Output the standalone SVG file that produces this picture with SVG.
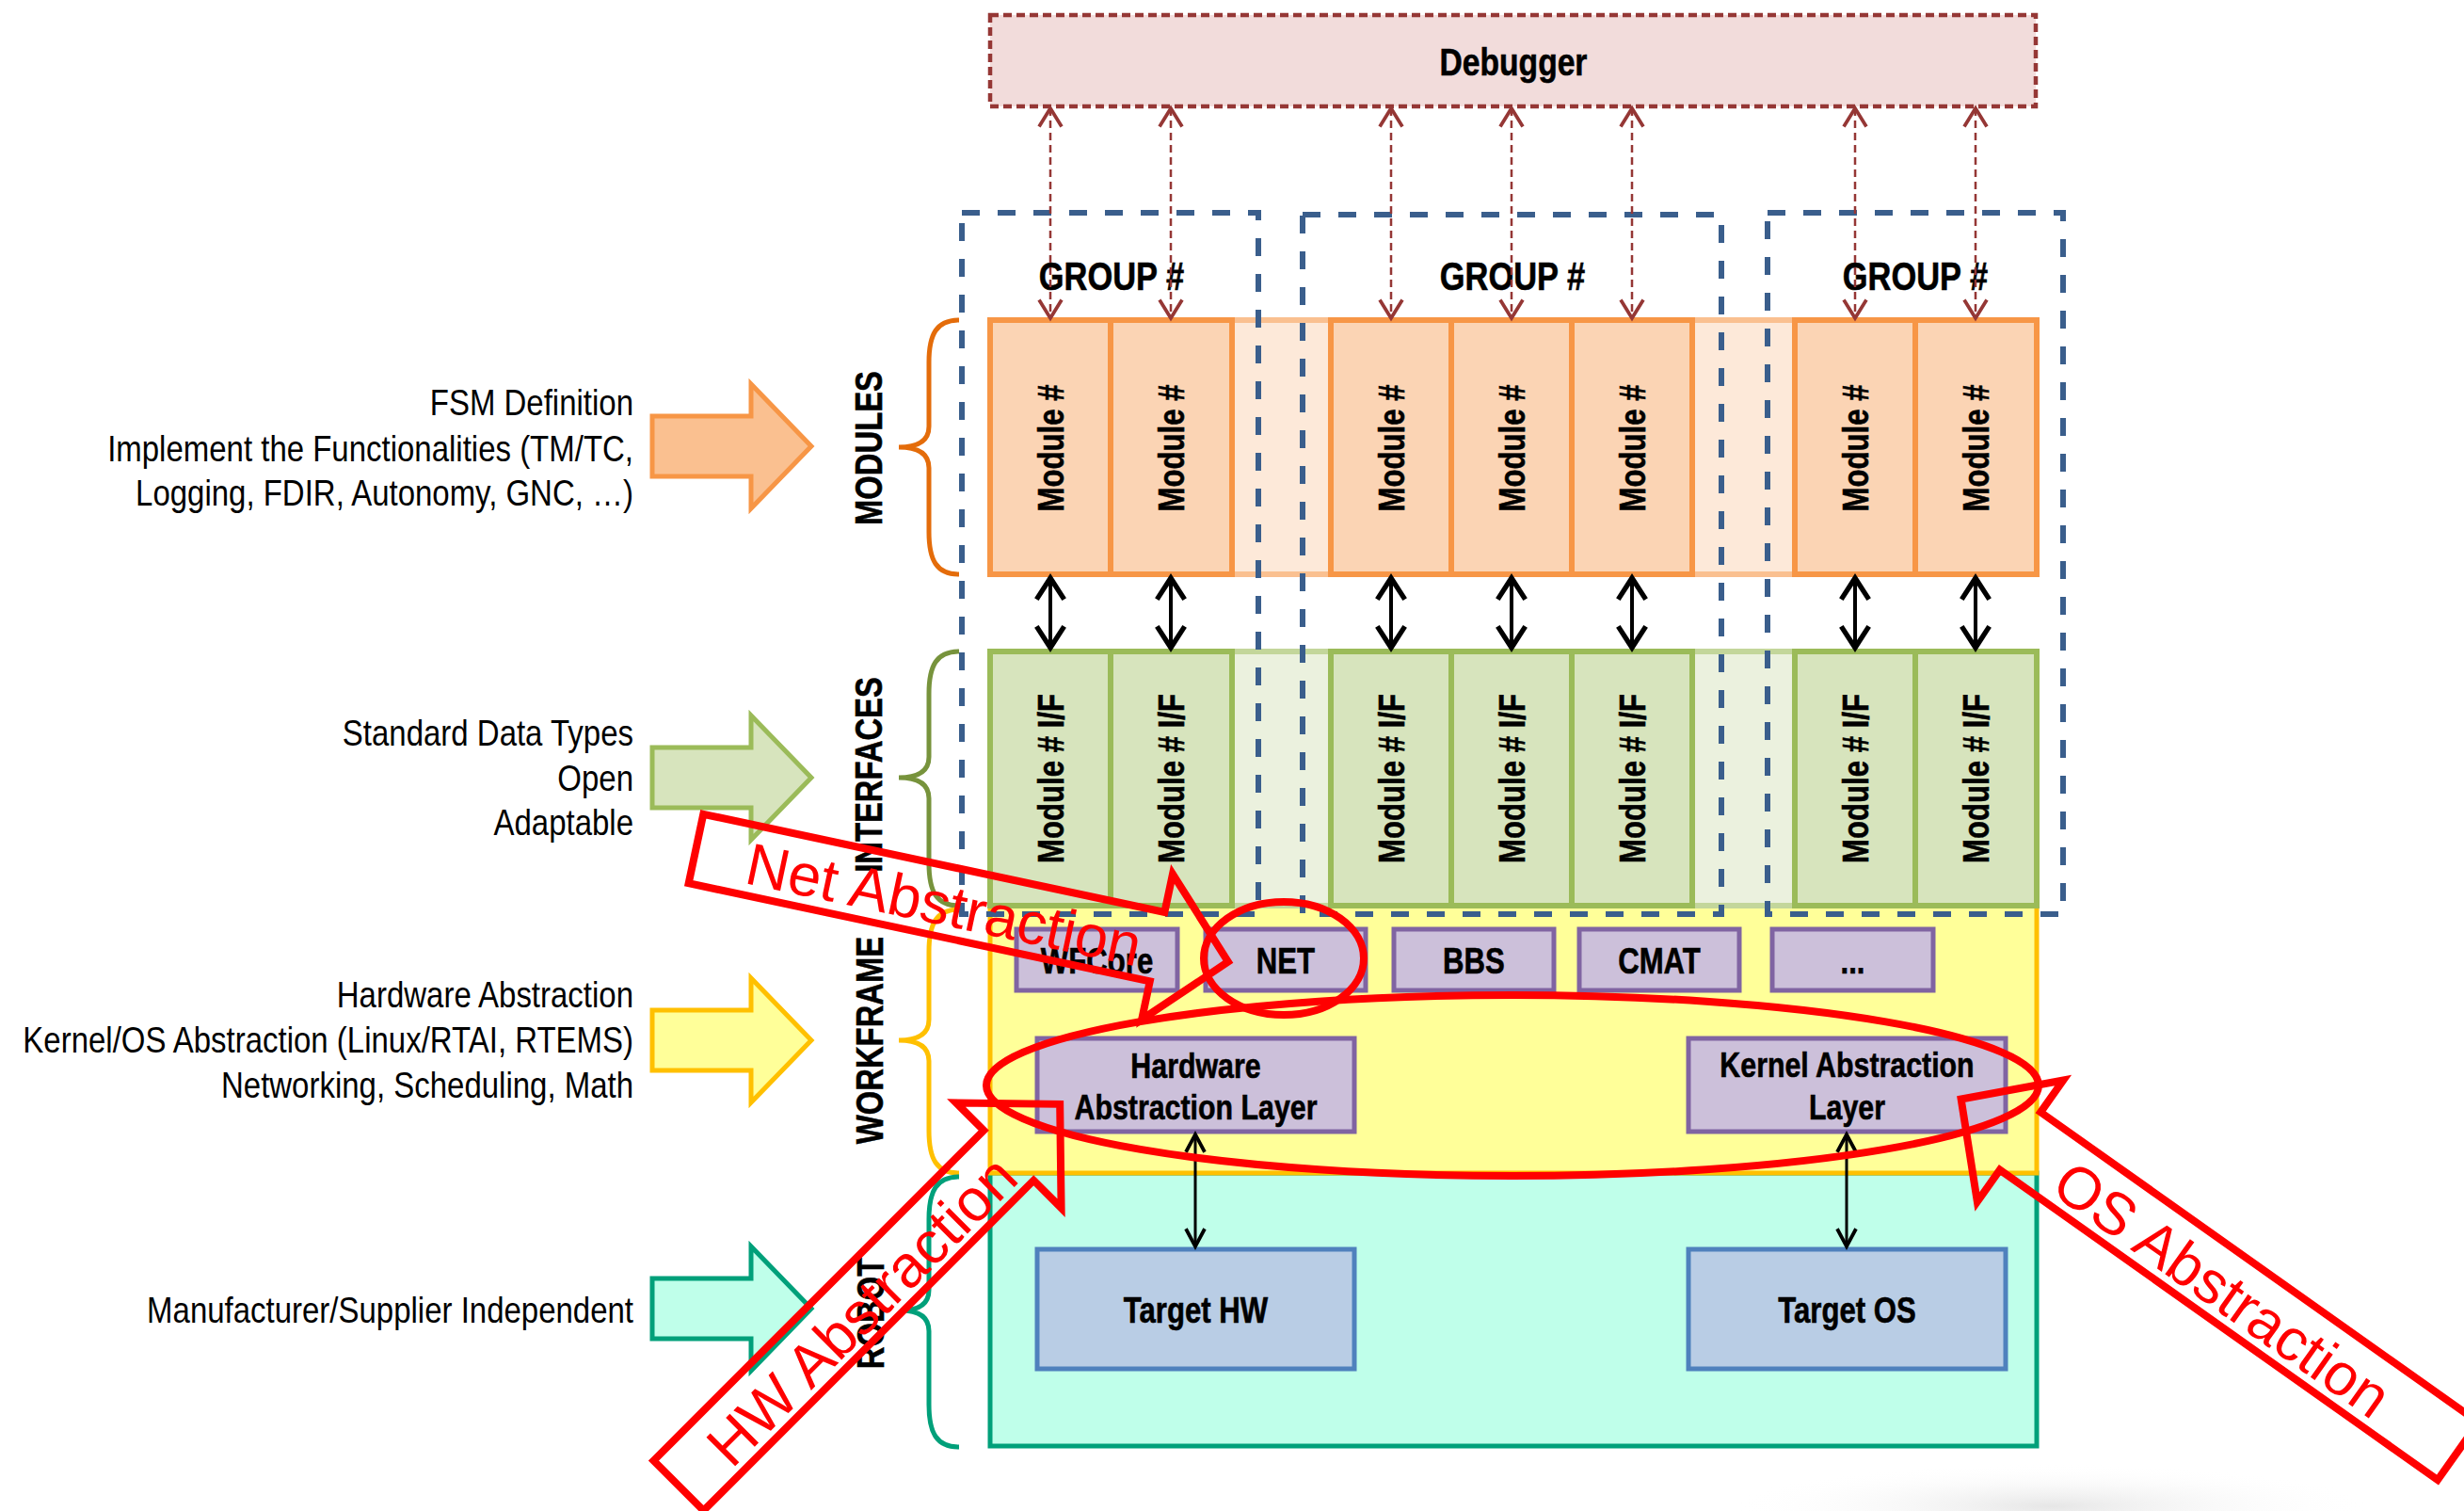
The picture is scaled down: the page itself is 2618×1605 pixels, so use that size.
<svg xmlns="http://www.w3.org/2000/svg" width="2618" height="1605" viewBox="0 0 2618 1605">
<style>
.nb{font-family:"Liberation Sans",Arial,sans-serif;font-weight:bold;fill:#000;stroke:#000;stroke-width:0.6;text-anchor:middle}
.nr{font-family:"Liberation Sans",Arial,sans-serif;font-size:39.5px;fill:#000;text-anchor:end}
.rt{font-family:"Liberation Sans",Arial,sans-serif;font-size:63px;fill:#FF0000;text-anchor:middle}
.mod{fill:#FBD4B4;stroke:#F79646;stroke-width:6}
.itf{fill:#D7E4BD;stroke:#9BBB59;stroke-width:6}
.wf{fill:#CCC0DA;stroke:#8064A2;stroke-width:5}
.tg{fill:#B9CDE5;stroke:#4F81BD;stroke-width:5}
.grp{fill:none;stroke:#3A5E8C;stroke-width:6;stroke-dasharray:19 19}
.brace{fill:none;stroke-width:5}
.dbg{stroke:#953735;stroke-width:2.5;stroke-dasharray:8 5;fill:none}
.blk{stroke:#000;stroke-width:4;fill:none}
.blk2{stroke:#000;stroke-width:3;fill:none}
.red{fill:none;stroke:#FF0000;stroke-width:8;stroke-linejoin:miter}
</style>
<defs>
<marker id="mdbg" markerUnits="userSpaceOnUse" markerWidth="30" markerHeight="30" viewBox="-16 -10 20 20" refX="0" refY="0" orient="auto-start-reverse">
<path d="M-13,-8 L0,0 L-13,8" fill="none" stroke="#953735" stroke-width="2.5"/>
</marker>
<marker id="mblk" markerUnits="userSpaceOnUse" markerWidth="40" markerHeight="40" viewBox="-20 -15 26 30" refX="0" refY="0" orient="auto-start-reverse">
<path d="M-17,-11 L0,0 L-17,11" fill="none" stroke="#000" stroke-width="4"/>
</marker>
<marker id="mblk2" markerUnits="userSpaceOnUse" markerWidth="30" markerHeight="30" viewBox="-18 -12 22 24" refX="0" refY="0" orient="auto-start-reverse">
<path d="M-15,-8 L0,0 L-15,8" fill="none" stroke="#000" stroke-width="3"/>
</marker>
<radialGradient id="blob" cx="0.5" cy="0.5" r="0.5">
<stop offset="0" stop-color="#E6E6E6"/>
<stop offset="1" stop-color="#FFFFFF" stop-opacity="0"/>
</radialGradient>
</defs>
<rect width="2618" height="1605" fill="#FFFFFF"/>
<ellipse cx="2180" cy="1600" rx="340" ry="45" fill="url(#blob)"/>

<!-- left descriptions and arrows -->
<g id="desc-modules">
<path d="M693,442 L798,442 L798,408 L862,474 L798,540 L798,506 L693,506 Z" fill="#FAC090" stroke="#F79646" stroke-width="5"/>
<text class="nr" transform="translate(673,441) scale(0.835,1)">FSM Definition</text>
<text class="nr" transform="translate(673,490) scale(0.835,1)">Implement the Functionalities (TM/TC,</text>
<text class="nr" transform="translate(673,537) scale(0.835,1)">Logging, FDIR, Autonomy, GNC, …)</text>
</g>
<g id="desc-interfaces">
<path d="M693,794 L798,794 L798,760 L862,826 L798,892 L798,858 L693,858 Z" fill="#D7E4BD" stroke="#9BBB59" stroke-width="5"/>
<text class="nr" transform="translate(673,792) scale(0.835,1)">Standard Data Types</text>
<text class="nr" transform="translate(673,840) scale(0.835,1)">Open</text>
<text class="nr" transform="translate(673,887) scale(0.835,1)">Adaptable</text>
</g>
<g id="desc-workframe">
<path d="M693,1073 L798,1073 L798,1039 L862,1105 L798,1171 L798,1137 L693,1137 Z" fill="#FFFF99" stroke="#FFC000" stroke-width="5"/>
<text class="nr" transform="translate(673,1070) scale(0.835,1)">Hardware Abstraction</text>
<text class="nr" transform="translate(673,1118) scale(0.835,1)">Kernel/OS Abstraction (Linux/RTAI, RTEMS)</text>
<text class="nr" transform="translate(673,1166) scale(0.835,1)">Networking, Scheduling, Math</text>
</g>
<g id="desc-robot">
<path d="M693,1358 L798,1358 L798,1324 L862,1390 L798,1456 L798,1422 L693,1422 Z" fill="#BFFFEA" stroke="#00A07A" stroke-width="5"/>
<text class="nr" transform="translate(673,1405) scale(0.835,1)">Manufacturer/Supplier Independent</text>
</g>

<!-- layer labels and braces -->
<g id="label-modules">
<path class="brace" stroke="#E46C0A" d="M1019,340 C995,340 987,355 987,385 L987,453 C987,469 975,475 955,475 C975,475 987,481 987,497 L987,565 C987,595 995,610 1019,610"/>
<text class="nb" font-size="40" transform="translate(937,476) rotate(-90) scale(0.82,1)">MODULES</text>
</g>
<g id="label-interfaces">
<path class="brace" stroke="#77933C" d="M1019,692 C995,692 987,707 987,737 L987,804 C987,820 975,826 955,826 C975,826 987,832 987,848 L987,917 C987,947 995,962 1019,962"/>
<text class="nb" font-size="40" transform="translate(937,823) rotate(-90) scale(0.82,1)">INTERFACES</text>
</g>
<g id="label-workframe">
<path class="brace" stroke="#FFC000" d="M1019,966 C995,966 987,981 987,1011 L987,1083 C987,1099 975,1105 955,1105 C975,1105 987,1111 987,1127 L987,1201 C987,1231 995,1246 1019,1246"/>
<text class="nb" font-size="40" transform="translate(938,1105) rotate(-90) scale(0.82,1)">WORKFRAME</text>
</g>
<g id="label-robot">
<path class="brace" stroke="#00A07A" d="M1019,1250 C995,1250 987,1265 987,1295 L987,1370 C987,1386 975,1392 957,1392 C975,1392 987,1398 987,1414 L987,1492 C987,1522 995,1537 1019,1537"/>
<text class="nb" font-size="40" transform="translate(939,1395) rotate(-90) scale(0.82,1)">ROBOT</text>
</g>

<!-- workframe and robot layers -->
<g id="robot">
<rect x="1052" y="1246" width="1112" height="290" fill="#BFFFEA" stroke="#00A07A" stroke-width="5"/>
</g>
<g id="workframe">
<rect x="1052" y="960" width="1112" height="286" fill="#FFFF99" stroke="#FFC000" stroke-width="5"/>
</g>
<g id="wfcore"><rect class="wf" x="1080" y="987" width="171" height="65"/><text class="nb" font-size="38" transform="translate(1165.5,1034) scale(0.82,1)">WFCore</text></g>
<g id="net"><rect class="wf" x="1281" y="987" width="170" height="65"/><text class="nb" font-size="38" transform="translate(1366,1034) scale(0.82,1)">NET</text></g>
<g id="bbs"><rect class="wf" x="1481" y="987" width="170" height="65"/><text class="nb" font-size="38" transform="translate(1566,1034) scale(0.82,1)">BBS</text></g>
<g id="cmat"><rect class="wf" x="1678" y="987" width="170" height="65"/><text class="nb" font-size="38" transform="translate(1763,1034) scale(0.82,1)">CMAT</text></g>
<g id="more"><rect class="wf" x="1883" y="987" width="171" height="65"/><text class="nb" font-size="38" transform="translate(1968.5,1034) scale(0.82,1)">...</text></g>
<g id="hal"><rect class="wf" x="1102" y="1103" width="337" height="99"/>
<text class="nb" font-size="37" transform="translate(1270.5,1145) scale(0.82,1)">Hardware</text>
<text class="nb" font-size="37" transform="translate(1270.5,1189) scale(0.82,1)">Abstraction Layer</text></g>
<g id="kal"><rect class="wf" x="1794" y="1103" width="337" height="99"/>
<text class="nb" font-size="37" transform="translate(1962.5,1144) scale(0.82,1)">Kernel Abstraction</text>
<text class="nb" font-size="37" transform="translate(1962.5,1189) scale(0.82,1)">Layer</text></g>
<g id="target-hw"><rect class="tg" x="1102" y="1327" width="337" height="127"/><text class="nb" font-size="38" transform="translate(1270.5,1405) scale(0.82,1)">Target HW</text></g>
<g id="target-os"><rect class="tg" x="1794" y="1327" width="337" height="127"/><text class="nb" font-size="38" transform="translate(1962.5,1405) scale(0.82,1)">Target OS</text></g>

<!-- modules row -->
<g id="modules-bg"><rect x="1052" y="340" width="1112" height="270" fill="#FDE9D9" stroke="#FAC090" stroke-width="6"/></g>
<g id="interfaces-bg"><rect x="1052" y="692" width="1112" height="270" fill="#EBF1DE" stroke="#C3D69B" stroke-width="6"/></g>
<g id="m1"><rect class="mod" x="1052" y="340" width="128" height="270"/><text class="nb" font-size="38" transform="translate(1130,476) rotate(-90) scale(0.82,1)">Module #</text></g>
<g id="m2"><rect class="mod" x="1180" y="340" width="129" height="270"/><text class="nb" font-size="38" transform="translate(1258,476) rotate(-90) scale(0.82,1)">Module #</text></g>
<g id="m3"><rect class="mod" x="1414" y="340" width="128" height="270"/><text class="nb" font-size="38" transform="translate(1492,476) rotate(-90) scale(0.82,1)">Module #</text></g>
<g id="m4"><rect class="mod" x="1542" y="340" width="128" height="270"/><text class="nb" font-size="38" transform="translate(1620,476) rotate(-90) scale(0.82,1)">Module #</text></g>
<g id="m5"><rect class="mod" x="1670" y="340" width="128" height="270"/><text class="nb" font-size="38" transform="translate(1748,476) rotate(-90) scale(0.82,1)">Module #</text></g>
<g id="m6"><rect class="mod" x="1907" y="340" width="128" height="270"/><text class="nb" font-size="38" transform="translate(1985,476) rotate(-90) scale(0.82,1)">Module #</text></g>
<g id="m7"><rect class="mod" x="2035" y="340" width="129" height="270"/><text class="nb" font-size="38" transform="translate(2113,476) rotate(-90) scale(0.82,1)">Module #</text></g>
<g id="i1"><rect class="itf" x="1052" y="692" width="128" height="270"/><text class="nb" font-size="38" transform="translate(1130,827) rotate(-90) scale(0.82,1)">Module # I/F</text></g>
<g id="i2"><rect class="itf" x="1180" y="692" width="129" height="270"/><text class="nb" font-size="38" transform="translate(1258,827) rotate(-90) scale(0.82,1)">Module # I/F</text></g>
<g id="i3"><rect class="itf" x="1414" y="692" width="128" height="270"/><text class="nb" font-size="38" transform="translate(1492,827) rotate(-90) scale(0.82,1)">Module # I/F</text></g>
<g id="i4"><rect class="itf" x="1542" y="692" width="128" height="270"/><text class="nb" font-size="38" transform="translate(1620,827) rotate(-90) scale(0.82,1)">Module # I/F</text></g>
<g id="i5"><rect class="itf" x="1670" y="692" width="128" height="270"/><text class="nb" font-size="38" transform="translate(1748,827) rotate(-90) scale(0.82,1)">Module # I/F</text></g>
<g id="i6"><rect class="itf" x="1907" y="692" width="128" height="270"/><text class="nb" font-size="38" transform="translate(1985,827) rotate(-90) scale(0.82,1)">Module # I/F</text></g>
<g id="i7"><rect class="itf" x="2035" y="692" width="129" height="270"/><text class="nb" font-size="38" transform="translate(2113,827) rotate(-90) scale(0.82,1)">Module # I/F</text></g>

<!-- groups -->
<g id="group1"><rect class="grp" x="1022" y="226" width="315" height="745"/><text class="nb" font-size="42" transform="translate(1181,308) scale(0.82,1)">GROUP #</text></g>
<g id="group2"><rect class="grp" x="1384" y="228" width="445" height="743"/><text class="nb" font-size="42" transform="translate(1607,308) scale(0.82,1)">GROUP #</text></g>
<g id="group3"><rect class="grp" x="1878" y="226" width="314" height="745"/><text class="nb" font-size="42" transform="translate(2035,308) scale(0.82,1)">GROUP #</text></g>

<!-- debugger -->
<g id="debugger"><rect x="1052" y="16" width="1111" height="97" fill="#F2DCDB" stroke="#953735" stroke-width="4.5" stroke-dasharray="9 5"/><text class="nb" font-size="41" transform="translate(1608,80) scale(0.82,1)">Debugger</text></g>

<!-- connectors -->
<g id="connectors">
<line class="dbg" x1="1116" y1="115" x2="1116" y2="338" marker-start="url(#mdbg)" marker-end="url(#mdbg)"/>
<line class="dbg" x1="1244" y1="115" x2="1244" y2="338" marker-start="url(#mdbg)" marker-end="url(#mdbg)"/>
<line class="dbg" x1="1478" y1="115" x2="1478" y2="338" marker-start="url(#mdbg)" marker-end="url(#mdbg)"/>
<line class="dbg" x1="1606" y1="115" x2="1606" y2="338" marker-start="url(#mdbg)" marker-end="url(#mdbg)"/>
<line class="dbg" x1="1734" y1="115" x2="1734" y2="338" marker-start="url(#mdbg)" marker-end="url(#mdbg)"/>
<line class="dbg" x1="1971" y1="115" x2="1971" y2="338" marker-start="url(#mdbg)" marker-end="url(#mdbg)"/>
<line class="dbg" x1="2099" y1="115" x2="2099" y2="338" marker-start="url(#mdbg)" marker-end="url(#mdbg)"/>
<line class="blk" x1="1116" y1="614" x2="1116" y2="688" marker-start="url(#mblk)" marker-end="url(#mblk)"/>
<line class="blk" x1="1244" y1="614" x2="1244" y2="688" marker-start="url(#mblk)" marker-end="url(#mblk)"/>
<line class="blk" x1="1478" y1="614" x2="1478" y2="688" marker-start="url(#mblk)" marker-end="url(#mblk)"/>
<line class="blk" x1="1606" y1="614" x2="1606" y2="688" marker-start="url(#mblk)" marker-end="url(#mblk)"/>
<line class="blk" x1="1734" y1="614" x2="1734" y2="688" marker-start="url(#mblk)" marker-end="url(#mblk)"/>
<line class="blk" x1="1971" y1="614" x2="1971" y2="688" marker-start="url(#mblk)" marker-end="url(#mblk)"/>
<line class="blk" x1="2099" y1="614" x2="2099" y2="688" marker-start="url(#mblk)" marker-end="url(#mblk)"/>
<line class="blk2" x1="1270" y1="1205" x2="1270" y2="1324" marker-start="url(#mblk2)" marker-end="url(#mblk2)"/>
<line class="blk2" x1="1962" y1="1205" x2="1962" y2="1324" marker-start="url(#mblk2)" marker-end="url(#mblk2)"/>
</g>

<!-- red annotations -->
<g id="ellipse-net"><ellipse class="red" cx="1364" cy="1018" rx="85" ry="60"/></g>
<g id="ellipse-abstraction"><ellipse class="red" cx="1607" cy="1153" rx="559" ry="96"/></g>
<g id="callout-net" transform="translate(739.5,901.5) rotate(12)">
<path class="red" d="M0,-37.5 L501,-37.5 L501,-79 L578,0 L501,79 L501,37.5 L0,37.5 Z"/>
<text class="rt" x="270" y="25">Net Abstraction</text>
</g>
<g id="callout-hw" transform="translate(721,1578) rotate(-45)">
<path class="red" d="M0,-37.5 L496,-37.5 L496,-79 L573,0 L496,79 L496,37.5 L0,37.5 Z"/>
<text class="rt" x="269" y="28">HW Abstraction</text>
</g>
<g id="callout-os">
<path class="red" transform="translate(2611.7,1541.4) rotate(215.3)" d="M0,-37.5 L570,-37.5 L570,-79 L647,0 L570,79 L570,37.5 L0,37.5 Z"/>
<text class="rt" transform="translate(2363,1367) rotate(35.3)" x="0" y="25">OS Abstraction</text>
</g>
</svg>
